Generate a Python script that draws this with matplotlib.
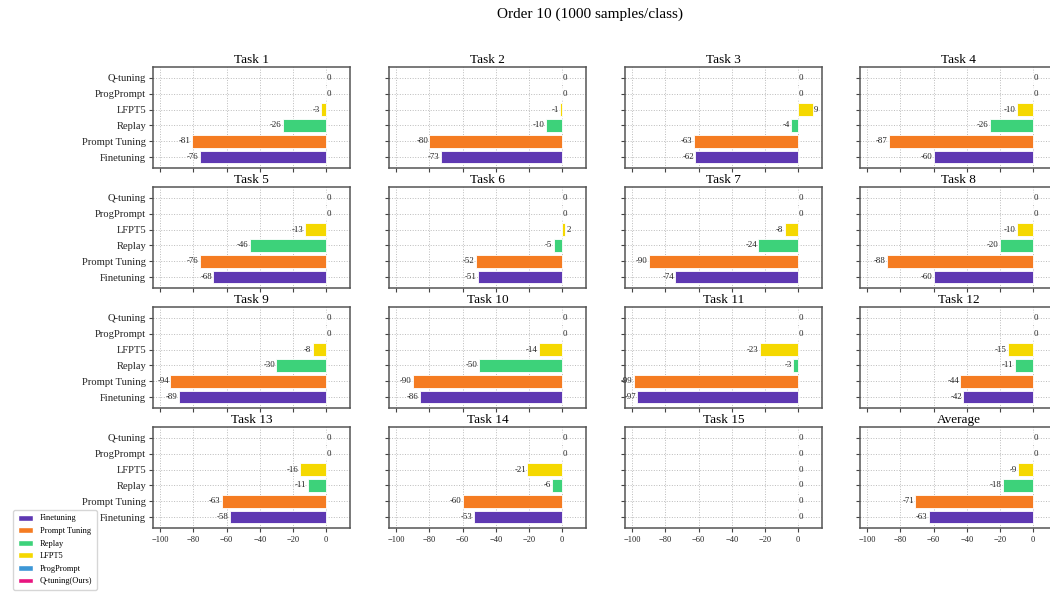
import matplotlib
matplotlib.use("Agg")
import matplotlib.pyplot as plt
from matplotlib.patches import Patch

plt.rcParams['font.family'] = ['Liberation Serif', 'DejaVu Serif']
plt.rcParams['axes.unicode_minus'] = True

methods = ["Finetuning", "Prompt Tuning", "Replay", "LFPT5", "ProgPrompt", "Q-tuning"]
legend_labels = ["Finetuning", "Prompt Tuning", "Replay", "LFPT5", "ProgPrompt", "Q-tuning(Ours)"]
colors = ["#5e38b2", "#f57c22", "#3dd27a", "#f5d800", "#3d97d6", "#e8157f"]

titles = ["Task 1", "Task 2", "Task 3", "Task 4", "Task 5", "Task 6", "Task 7", "Task 8",
          "Task 9", "Task 10", "Task 11", "Task 12", "Task 13", "Task 14", "Task 15", "Average"]

# values per panel in order: Finetuning, Prompt Tuning, Replay, LFPT5, ProgPrompt, Q-tuning
task1 = [-76, -81, -26, -3, 0, 0]
task2 = [-73, -80, -10, -1, 0, 0]
task3 = [-62, -63, -4, 9, 0, 0]
task4 = [-60, -87, -26, -10, 0, 0]
task5 = [-68, -76, -46, -13, 0, 0]
task6 = [-51, -52, -5, 2, 0, 0]
task7 = [-74, -90, -24, -8, 0, 0]
task8 = [-60, -88, -20, -10, 0, 0]
task9 = [-89, -94, -30, -8, 0, 0]
task10 = [-86, -90, -50, -14, 0, 0]
task11 = [-97, -99, -3, -23, 0, 0]
task12 = [-42, -44, -11, -15, 0, 0]
task13 = [-58, -63, -11, -16, 0, 0]
task14 = [-53, -60, -6, -21, 0, 0]
task15 = [0, 0, 0, 0, 0, 0]
average = [-63, -71, -18, -9, 0, 0]

panels = [task1, task2, task3, task4, task5, task6, task7, task8,
          task9, task10, task11, task12, task13, task14, task15, average]

xticks = [-100, -80, -60, -40, -20, 0]

W, H = 1050, 594
fig = plt.figure(figsize=(W / 100, H / 100), dpi=100)

col_left = [153, 389, 625, 860]
row_top = [67, 187, 307, 427]
aw, ah = 197, 101

axes = []
for i in range(16):
    r, c = divmod(i, 4)
    left = col_left[c] / W
    bottom = 1 - (row_top[r] + ah) / H
    sharex = axes[0] if axes else None
    sharey = axes[0] if axes else None
    ax = fig.add_axes([left, bottom, aw / W, ah / H], sharex=sharex, sharey=sharey)
    axes.append(ax)

for i, ax in enumerate(axes):
    r, c = divmod(i, 4)
    vals = panels[i]
    ypos = list(range(len(methods)))
    ax.barh(ypos, vals, height=0.8, color=colors, edgecolor='white', linewidth=0.6, zorder=3)
    for y, v in zip(ypos, vals):
        if v < 0:
            ax.text(v - 0.8, y, f"{v}", ha='right', va='center', fontsize=6.3, color='#222222', zorder=4)
        else:
            ax.text(v + 0.6, y, f"{v}", ha='left', va='center', fontsize=6.3, color='#222222', zorder=4)
    ax.set_title(titles[i], fontsize=9.5, pad=3)
    ax.grid(True, linestyle=':', color='#bbbbbb', linewidth=0.7, zorder=0)
    ax.set_axisbelow(True)
    for s in ax.spines.values():
        s.set_color('#555555')
        s.set_linewidth(1.1)
    ax.tick_params(axis='both', colors='#444444', length=3, width=0.8, labelcolor='#222222')
    ax.tick_params(axis='x', labelsize=6, pad=2.5)
    ax.tick_params(axis='y', labelsize=7.6, pad=2)
    ax.set_yticks(ypos)
    ax.set_yticklabels(methods)
    ax.set_xticks(xticks)
    if r != 3:
        ax.tick_params(axis='x', labelbottom=False)
    if c != 0:
        ax.tick_params(axis='y', labelleft=False)

axes[0].set_xlim(-104.4, 14.4)
axes[0].set_ylim(-0.69, 5.69)

handles = [Patch(facecolor=col, edgecolor='white', label=lab) for col, lab in zip(colors, legend_labels)]
fig.legend(handles=handles, loc='lower left', bbox_to_anchor=(13 / W, 1 - 590 / H),
           fontsize=6, frameon=True, fancybox=True, edgecolor='#cccccc',
           handlelength=1.9, handleheight=0.7, labelspacing=0.55, borderpad=0.55,
           handletextpad=0.8, borderaxespad=0.0)

fig.text(590 / W, 1 - 14 / H, "Order 10 (1000 samples/class)", ha='center', va='center', fontsize=11)

fig.savefig("out.png", dpi=100)
